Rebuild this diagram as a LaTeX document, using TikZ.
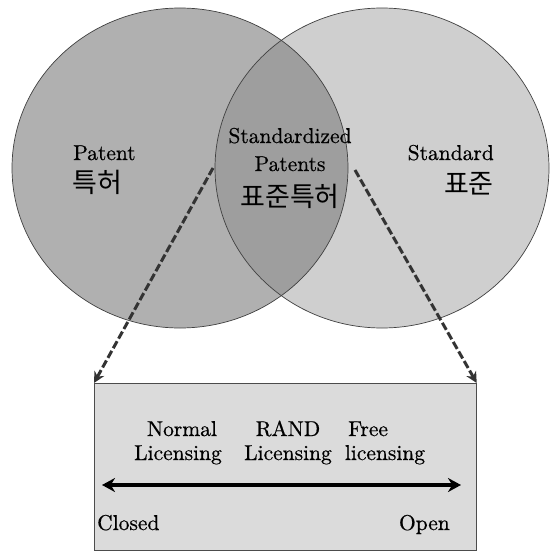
\documentclass[tikz,border=0pt]{standalone}
\usepackage{fontspec}
\setmainfont{lmroman10-regular.otf}[FakeBold=0.6]
\newfontfamily\krfont{Noto Sans CJK KR}
\usetikzlibrary{arrows.meta,shapes.geometric}
\definecolor{leftgray}{gray}{0.69}
\definecolor{rightgray}{gray}{0.81}
\definecolor{lensgray}{gray}{0.62}
\definecolor{boxgray}{gray}{0.86}
\definecolor{linegray}{gray}{0.25}
\tikzset{
  lbl/.style={font=\fontsize{21.5}{25}\selectfont, inner sep=0pt},
  krlbl/.style={font=\krfont\fontsize{27}{30}\selectfont, inner sep=0pt},
  outline/.style={draw=linegray, line width=0.7pt},
  dasharrow/.style={draw=black!80, line width=3pt, dash pattern=on 8pt off 3pt, -{Stealth[length=11pt,width=11pt]}},
  scalearrow/.style={draw=black, line width=3.4pt, {Stealth[length=13pt,width=14pt]}-{Stealth[length=13pt,width=14pt]}},
  panel/.style={draw=black!70, line width=0.7pt, fill=boxgray, minimum width=382pt, minimum height=167pt, inner sep=0pt, anchor=north west}
}
\begin{document}
\begin{tikzpicture}[x=1pt,y=-1pt]
\useasboundingbox (0,0) rectangle (551,551);
% circles
\fill[leftgray] (180,168) ellipse [x radius=168, y radius=160];
\fill[rightgray] (382,168) ellipse [x radius=167, y radius=160];
\begin{scope}
  \clip (180,168) ellipse [x radius=168, y radius=160];
  \fill[lensgray] (382,168) ellipse [x radius=167, y radius=160];
\end{scope}
\draw[outline] (180,168) ellipse [x radius=168, y radius=160];
\draw[outline] (382,168) ellipse [x radius=167, y radius=160];

% circle labels
\node[lbl, anchor=base west] (patent) at (73,160) {Patent};
\node[krlbl, anchor=west] (patentkr) at (72,182) {특허};
\node[lbl, anchor=base east] (standard) at (494,160) {Standard};
\node[krlbl, anchor=east] (standardkr) at (494,184) {표준};
\node[lbl, anchor=base] (stdz) at (290,143) {Standardized};
\node[lbl, anchor=base] (pats) at (290,171) {Patents};
\node[krlbl, anchor=center] (stdpatkr) at (290,196) {표준특허};

% box
\node[panel] (box) at (94,383) {};

% dashed arrows
\coordinate (ls) at (213,168);
\coordinate (rs) at (355,170);
\draw[dasharrow] (ls) -- (box.north west);
\draw[dasharrow] (rs) -- (box.north east);

% box texts
\node[lbl, anchor=base] (normal) at (182,436) {Normal};
\node[lbl, anchor=base] (normallic) at (178,460) {Licensing};
\node[lbl, anchor=base] (rand) at (288,436) {RAND};
\node[lbl, anchor=base] (randlic) at (288,460) {Licensing};
\node[lbl, anchor=base west] (free) at (348,436) {Free};
\node[lbl, anchor=base] (freelic) at (385,460) {licensing};

\coordinate (al) at (102,485);
\coordinate (ar) at (461,485);
\draw[scalearrow] (al) -- (ar);

\node[lbl, anchor=base west] (closed) at (97,530) {Closed};
\node[lbl, anchor=base east] (open) at (450,530) {Open};
\end{tikzpicture}
\end{document}
